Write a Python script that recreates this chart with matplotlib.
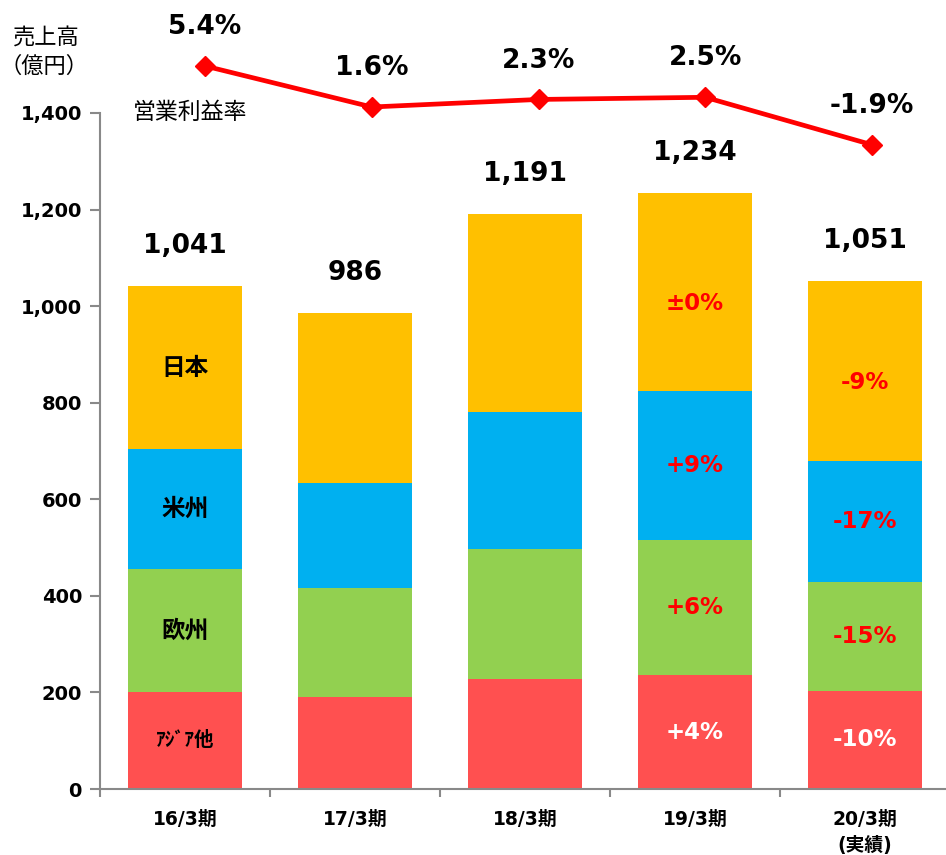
import matplotlib
matplotlib.use("Agg")
import matplotlib.pyplot as plt
import numpy as np

plt.rcParams['font.family'] = ['DejaVu Sans', 'Noto Sans CJK JP']

periods = ["16/3期", "17/3期", "18/3期", "19/3期", "20/3期\n(実績)"]
regions = ["ｱｼﾞｱ他", "欧州", "米州", "日本"]
asia = [200, 190, 228, 236, 203]
europe = [255, 226, 269, 280, 226]
americas = [249, 218, 284, 308, 250]
japan = [337, 352, 410, 410, 372]
totals = [1041, 986, 1191, 1234, 1051]
margin = [5.4, 1.6, 2.3, 2.5, -1.9]
margin_labels = ["5.4%", "1.6%", "2.3%", "2.5%", "-1.9%"]
# year-on-year change labels for the last two bars (bottom -> top)
yoy_19 = ["+4%", "+6%", "+9%", "±0%"]
yoy_20 = ["-10%", "-15%", "-17%", "-9%"]

colors = ["#FF5050", "#92D050", "#00B0F0", "#FFC000"]
W, H = 946, 855
fig = plt.figure(figsize=(W / 100, H / 100), dpi=100)
rect = [100 / W, (H - 789) / H, 850 / W, (789 - 20) / H]
ax = fig.add_axes(rect)

x = np.arange(len(periods))
stack = [asia, europe, americas, japan]
bottom = np.zeros(len(x))
for seg, c in zip(stack, colors):
    ax.bar(x, seg, bottom=bottom, width=0.67, color=c, zorder=2)
    bottom += np.array(seg)

ax.set_xlim(-0.5, 4.5)
ax.set_ylim(0, (789 - 20) / 0.4829)
ax.set_yticks(range(0, 1401, 200))
ax.set_yticklabels([f"{v:,}" for v in range(0, 1401, 200)], fontsize=14, fontweight="bold")
ax.set_xticks(x)
ax.set_xticklabels(periods, fontsize=13.5, fontweight="bold", linespacing=1.45, va="top")
ax.set_xticks(np.arange(-0.5, 5, 1), minor=True)
ax.tick_params(axis="x", which="major", length=0, pad=15)
ax.tick_params(axis="x", which="minor", length=6, color="#898989", width=1.5, direction="out")
ax.tick_params(axis="y", length=7, color="#898989", width=1.5, pad=6)
for s in ["top", "right"]:
    ax.spines[s].set_visible(False)
for s in ["left", "bottom"]:
    ax.spines[s].set_color("#898989")
    ax.spines[s].set_linewidth(1.5)
ax.spines["left"].set_bounds(0, 1400)

# totals above bars
for xi, t in zip(x, totals):
    ax.annotate(f"{t:,}", (xi, t), xytext=(0, 29), textcoords="offset points",
                ha="center", va="center", fontsize=19, fontweight="bold")

# segment labels
cum = np.cumsum(np.array(stack), axis=0)
centers = cum - np.array(stack) / 2
for i, name in enumerate(regions):
    fs = 14 if i == 0 else 17
    ax.text(0, centers[i][0], name, ha="center", va="center", fontsize=fs,
            fontweight="bold", family=["Noto Sans CJK JP"])
for col, labs in [(3, yoy_19), (4, yoy_20)]:
    for i, lab in enumerate(labs):
        off = -8 if i == 3 else 0
        ax.annotate(lab, (col, centers[i][col]), xytext=(0, off), textcoords="offset points",
                    ha="center", va="center", fontsize=16.5, fontweight="bold",
                    color="white" if i == 0 else "#FF0000")

# operating margin line (own category axis, slightly shifted from the bars)
ax2 = fig.add_axes(rect, sharex=None)
ax2.patch.set_visible(False)
ax2.set_xlim(-105 / 166.75, -105 / 166.75 + 850 / 166.75)
ax2.set_ylim(1.6 - (789 - 107) / 10.79, 1.6 + (107 - 20) / 10.79)
ax2.axis("off")
ax2.plot(x, margin, color="#FF0000", lw=3.4, marker="D", ms=10, zorder=5, clip_on=False)
for xi, m, lab in zip(x, margin, margin_labels):
    ax2.annotate(lab, (xi, m), xytext=(0, 28), textcoords="offset points",
                 ha="center", va="center", fontsize=19, fontweight="bold")

fig.text(190 / W, 1 - 112 / H, "営業利益率", ha="center", va="center", fontsize=16.5,
         family=["Noto Sans CJK JP"])
fig.text(46 / W, 1 - 38 / H, "売上高", ha="center", va="center", fontsize=16,
         family=["Noto Sans CJK JP"])
fig.text(44 / W, 1 - 66 / H, "（億円）", ha="center", va="center", fontsize=16,
         family=["Noto Sans CJK JP"])

fig.savefig("out.png", dpi=100)
